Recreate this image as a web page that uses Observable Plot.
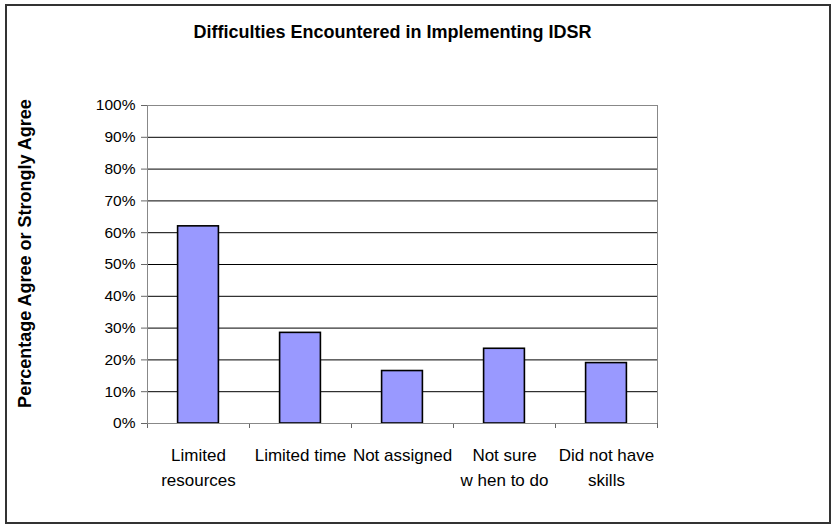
<!DOCTYPE html>
<html><head><meta charset="utf-8">
<script src="https://cdn.jsdelivr.net/npm/d3@7"></script>
<script src="https://cdn.jsdelivr.net/npm/@observablehq/plot@0.6"></script>
<style>
body{margin:0;background:#fff;}
#wrap{position:relative;width:836px;height:529px;}
#frame{position:absolute;left:5px;top:4px;width:826px;height:520px;border:2px solid #333;box-sizing:border-box;pointer-events:none}
</style></head><body>
<div id="wrap"><div id="chart"></div><div id="frame"></div></div>
<script>
const categories = ["Limited\nresources", "Limited time", "Not assigned", "Not sure\nw hen to do", "Did not have\nskills"];
const values = [62, 28.5, 16.5, 23.5, 19];
const yTicks = [0, 10, 20, 30, 40, 50, 60, 70, 80, 90, 100];
const title = "Difficulties Encountered in Implementing IDSR";
const yLabel = "Percentage Agree or Strongly Agree";

const n = categories.length;
const data = categories.map((c, i) => ({c, i, v: values[i]}));
const font = "Arial, 'Liberation Sans', sans-serif";

const chart = Plot.plot({
  width: 836, height: 529,
  marginLeft: 147, marginRight: 179, marginTop: 105, marginBottom: 106,
  style: {fontFamily: font, fontSize: "16px", color: "#000", background: "transparent"},
  x: {domain: [0, n], axis: null},
  y: {domain: [0, 100], axis: null},
  marks: [
    Plot.ruleY(yTicks.filter(t => t > 0 && t < 100), {stroke: "#000", strokeWidth: 1}),
    Plot.frame({stroke: "#888", strokeWidth: 1}),
    Plot.rectY(data, {x1: d => d.i + 0.3, x2: d => d.i + 0.7, y: "v", fill: "#9999FF", stroke: "#000", strokeWidth: 1.6}),
    Plot.axisY({ticks: yTicks, tickFormat: d => d + "%", tickSize: 6, tickPadding: 6, stroke: "#666", label: null, fontSize: 15.5}),
    Plot.axisX({ticks: d3.range(n + 1), tickFormat: () => "", tickSize: 5, stroke: "#666", label: null}),
    Plot.ruleX([0], {stroke: "#888"}),
    Plot.ruleY([0], {stroke: "#888"}),
    Plot.text(data, {x: d => d.i + 0.5, y: 0, text: "c", dy: 20, lineAnchor: "top", lineHeight: 1.45, fontSize: 17}),
    Plot.text([title], {frameAnchor: "top", lineAnchor: "middle", dx: -10, dy: -73, fontWeight: "bold", fontSize: 18, letterSpacing: "1.5px"}),
    Plot.text([yLabel], {frameAnchor: "left", textAnchor: "middle", lineAnchor: "middle", rotate: -90, dx: -122, dy: -11, fontWeight: "bold", fontSize: 18, letterSpacing: "0.8px"})
  ]
});
document.getElementById("chart").append(chart);
</script>
</body></html>
